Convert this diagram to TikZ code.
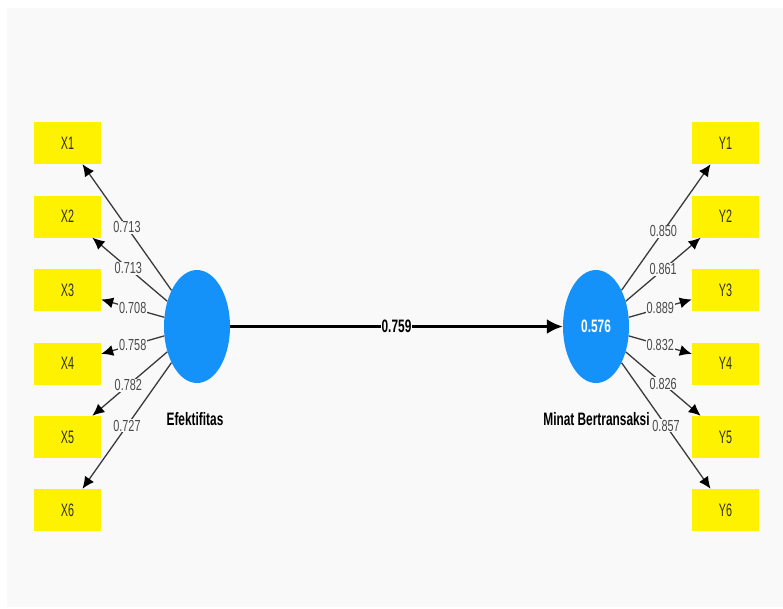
\documentclass[tikz,border=0pt]{standalone}
\usepackage{fontspec}
\setmainfont{Liberation Sans}
\newfontfamily\lblf[FakeStretch=0.68]{Liberation Sans}
\newfontfamily\boxf[FakeStretch=0.6]{Liberation Sans}
\newfontfamily\bldf[FakeStretch=0.66]{Liberation Sans}
\usetikzlibrary{shapes.geometric,arrows.meta}
\definecolor{bg}{HTML}{F9F9F9}
\definecolor{lvblue}{RGB}{20,146,250}
\definecolor{linec}{HTML}{3A3A3A}
\definecolor{lblc}{HTML}{4A4A4A}
\definecolor{txtc}{HTML}{303030}
\tikzset{
  ind/.style={rectangle, fill=yellow, minimum width=67pt, minimum height=42pt, inner sep=0pt,
    font=\boxf\fontsize{18}{18}\selectfont, text=txtc},
  lv/.style={ellipse, fill=lvblue, minimum width=66pt, minimum height=113pt, inner sep=0pt},
  load/.style={draw=linec, line width=1.3pt, -{Latex[length=12pt,width=11pt,color=black]}},
  lbl/.style={fill=bg, inner sep=0.8pt, font=\lblf\fontsize{16}{16}\selectfont, text=lblc},
  pathc/.style={draw=black, line width=3pt, -{Latex[length=16pt,width=15pt]}},
  plbl/.style={fill=bg, inner sep=0.8pt, font=\bldf\bfseries\fontsize{18}{18}\selectfont, text=black},
  lvname/.style={font=\bldf\bfseries\fontsize{18}{18}\selectfont, text=black, inner sep=0pt}
}
\begin{document}
\begin{tikzpicture}[x=1pt,y=-1pt]
\useasboundingbox (0,0) rectangle (783,608);
\fill[white] (0,0) rectangle (783,608);
\fill[bg] (6.5,7.5) rectangle (783,607);
% latent variables
\node[lv] (E) at (197,326.5) {};
\node[lv, font=\bldf\bfseries\fontsize{18}{18}\selectfont, text=white] (M) at (596,326.5) {0.576};
\node[lvname] (EL) at (195,419) {Efektifitas};
\node[lvname] (ML) at (596.5,419) {Minat Bertransaksi};
% indicators
\node[ind] (X1) at (67.5,143) {X1};
\node[ind] (X2) at (67.5,216.5) {X2};
\node[ind] (X3) at (67.5,290) {X3};
\node[ind] (X4) at (67.5,363.5) {X4};
\node[ind] (X5) at (67.5,437) {X5};
\node[ind] (X6) at (67.5,510) {X6};
\node[ind] (Y1) at (725.5,143) {Y1};
\node[ind] (Y2) at (725.5,216.5) {Y2};
\node[ind] (Y3) at (725.5,290) {Y3};
\node[ind] (Y4) at (725.5,363.5) {Y4};
\node[ind] (Y5) at (725.5,437) {Y5};
\node[ind] (Y6) at (725.5,510) {Y6};
% outer loadings
\draw[load] (E) -- node[lbl,pos=0.5] {0.713} (X1);
\draw[load] (E) -- node[lbl,pos=0.52] {0.713} (X2);
\draw[load] (E) -- node[lbl,pos=0.5] {0.708} (X3);
\draw[load] (E) -- node[lbl,pos=0.5] {0.758} (X4);
\draw[load] (E) -- node[lbl,pos=0.52] {0.782} (X5);
\draw[load] (E) -- node[lbl,pos=0.5] {0.727} (X6);
\draw[load] (M) -- node[lbl,pos=0.47] {0.850} (Y1);
\draw[load] (M) -- node[lbl,pos=0.5] {0.861} (Y2);
\draw[load] (M) -- node[lbl,pos=0.5] {0.889} (Y3);
\draw[load] (M) -- node[lbl,pos=0.5] {0.832} (Y4);
\draw[load] (M) -- node[lbl,pos=0.5] {0.826} (Y5);
\draw[load] (M) -- node[lbl,pos=0.5] {0.857} (Y6);
% path
\draw[pathc] (E) -- node[plbl,pos=0.5] {0.759} (M);
\end{tikzpicture}
\end{document}
